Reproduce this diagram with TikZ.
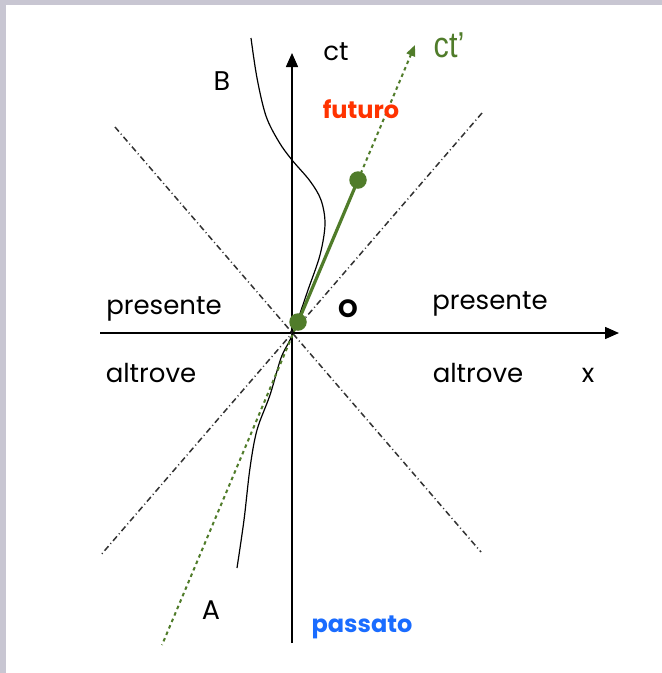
\documentclass[tikz,border=0pt]{standalone}
\usepackage{fontspec}
\setmainfont{Poppins}
\newfontfamily\arialf{Liberation Sans}
\usetikzlibrary{arrows.meta}
\definecolor{framec}{RGB}{200,198,210}
\definecolor{grn}{RGB}{80,124,42}
\definecolor{futc}{RGB}{255,51,0}
\definecolor{pasc}{RGB}{26,108,255}
\definecolor{conec}{RGB}{50,50,50}
\begin{document}
\begin{tikzpicture}[x=1pt,y=-1pt,
  axisline/.style={line width=1.5pt,-{Triangle[length=14pt,width=12pt]}},
  conel/.style={conec,line width=1.5pt,dash pattern=on 6pt off 3pt on 1pt off 3pt},
  worldl/.style={black,line width=1.2pt},
  grnsolid/.style={grn,line width=3.2pt},
  grndot/.style={grn,line width=2pt,dash pattern=on 3.5pt off 3.5pt},
  grnball/.style={circle,fill=grn,inner sep=0pt,minimum size=17.5pt},
  lbl/.style={inner sep=0pt,anchor=base,font=\fontsize{26}{29}\selectfont},
  caplbl/.style={inner sep=0pt,anchor=base,font=\fontsize{27}{30}\selectfont},
  boldlbl/.style={inner sep=0pt,anchor=base,font=\fontsize{24}{27}\selectfont\bfseries}]
\useasboundingbox (0,0) rectangle (662,673);
\fill[white] (0,0) rectangle (662,673);
\fill[framec] (0,0) rectangle (662,5);
\fill[framec] (0,0) rectangle (6,673);

% axes
\coordinate (O) at (292,333);
\coordinate (xl) at (100,333);
\coordinate (xr) at (619,333);
\coordinate (yb) at (292,643);
\coordinate (yt) at (292,53);
\draw[axisline] (xl) -- (xr);
\draw[axisline] (yb) -- (yt);

% light cone
\coordinate (cTL) at (115,127);
\coordinate (cBR) at (481,552);
\coordinate (cTR) at (482,113);
\coordinate (cBL) at (100,556);
\draw[conel] (cTL) -- (cBR);
\draw[conel] (cTR) -- (cBL);

% world line A-B
\draw[worldl] plot[smooth,tension=0.55] coordinates {
  (251,38) (257,78) (266,116) (279,142) (292,160) (310,181) (321,200)
  (325,224) (320,255) (308,290) (297,322) (290,340) (281,358)
  (270,395) (257,430) (250,468) (244,520) (237,568)};

% green worldline ct'
\node[grnball] (g0) at (298,322) {};
\node[grnball] (g1) at (358,180) {};
\coordinate (gtip) at (415,45);
\coordinate (gbot) at (162,645);
\draw[grndot,-{Triangle[length=11pt,width=9pt]}] (g1.center) -- (gtip);
\draw[grndot] (g0.center) -- (gbot);
\draw[grnsolid] (g0.center) -- (g1.center);

% labels
\node[lbl] (ct) at (336,60) {ct};
\node[inner sep=0pt,anchor=base,text=grn,xscale=0.85,font=\arialf\fontsize{36}{39}\selectfont] (ctp) at (449,57) {ct’};
\node[caplbl] (B) at (222,90) {B};
\node[caplbl] (A) at (211,619) {A};
\node[boldlbl,text=futc] (fut) at (361,118) {futuro};
\node[boldlbl,text=pasc] (pas) at (362,632) {passato};
\node[inner sep=0pt,anchor=base,font=\fontsize{25}{28}\selectfont\bfseries] (Olab) at (348,317) {O};
\node[lbl] (presL) at (164,314) {presente};
\node[lbl] (presR) at (490,309) {presente};
\node[lbl] (altL) at (151,382) {altrove};
\node[lbl] (altR) at (478,382) {altrove};
\node[lbl] (xlab) at (588,382) {x};
\end{tikzpicture}
\end{document}
